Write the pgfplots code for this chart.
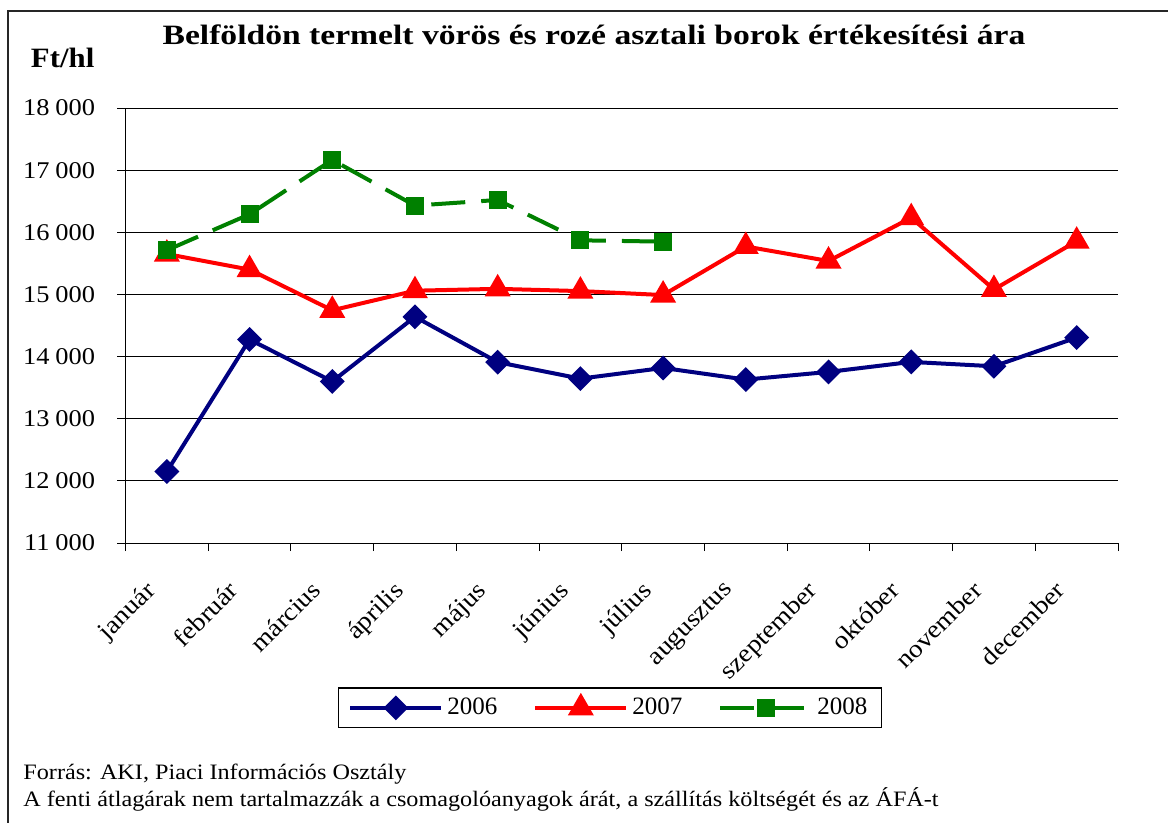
\documentclass[border=0pt]{standalone}
\usepackage{fontspec}
\setmainfont{Liberation Serif}[FakeStretch=1.1]
\newfontfamily\plainfont{Liberation Serif}
\newfontfamily\titlefont{Liberation Serif}[FakeStretch=1.2]
\usepackage{pgfplots}
\pgfplotsset{compat=1.18}

\definecolor{c2006}{RGB}{0,0,128}
\definecolor{c2007}{RGB}{255,0,0}
\definecolor{c2008}{RGB}{0,128,0}

\begin{document}
\begin{tikzpicture}
% 1 px of the reference = 0.5pt
\useasboundingbox (0,0) rectangle (584pt,-411.5pt);
\draw[black!85, line width=1pt] (3.9pt,-412pt) -- (3.9pt,-5.5pt) -- (585pt,-5.5pt);

\node[anchor=base, inner sep=0pt, font=\titlefont\fontsize{14}{16}\selectfont\bfseries]
  at (297pt,-22.5pt) {Belföldön termelt vörös és rozé asztali borok értékesítési ára};
\node[anchor=base west, inner sep=0pt, font=\fontsize{14}{16}\selectfont\bfseries]
  at (15.3pt,-34pt) {Ft/hl};

\begin{axis}[
    at={(62.75pt,-271.5pt)}, anchor=south west,
    scale only axis,
    width=496.25pt, height=217.5pt,
    xmin=0.5, xmax=12.5,
    ymin=11000, ymax=18000,
    ytick distance=1000,
    scaled y ticks=false,
    axis x line=bottom, axis y line=left,
    axis line style={-, black, line width=0.5pt},
    tick align=outside,
    major tick length=4pt,
    minor tick length=4pt,
    tick style={black, line width=0.5pt},
    major x tick style={draw=none},
    xtick={1,...,12},
    minor xtick={0.5,1.5,...,12.5},
    xticklabels={január, február, március, április, május, június, július,
                 augusztus, szeptember, október, november, december},
    xticklabel style={rotate=45, anchor=north east, inner sep=0pt,
                      xshift=-18pt, yshift=-2pt,
                      font=\fontsize{12.5}{14}\selectfont},
    yticklabel style={inner sep=0pt, xshift=-11pt,
                      font=\fontsize{12}{14}\selectfont},
    /pgf/number format/.cd, 1000 sep={\hspace{0.25em}}, assume math mode=true,
    /pgfplots/.cd,
    ymajorgrids,
    major grid style={black, line width=0.5pt},
    clip=false,
    legend columns=3,
    legend style={at={(axis description cs:0.488,-0.379)}, anchor=center,
                  draw=black, line width=0.6pt, inner xsep=5pt, inner ysep=3pt,
                  font=\plainfont\fontsize{12.5}{14}\selectfont,
                  /tikz/every even column/.append style={column sep=16pt}},
    legend image code/.code={
        \draw[mark repeat=2, mark phase=2, #1]
        plot coordinates {(0pt,0pt) (22.75pt,0pt) (45.5pt,0pt)};},
]
\addplot[c2006, line width=2pt, mark=square*, mark size=3.4pt,
         mark options={rotate=45, solid}]
  coordinates {(1,12150) (2,14275) (3,13600) (4,14640) (5,13910) (6,13645)
               (7,13817) (8,13630) (9,13753) (10,13914) (11,13844) (12,14306)};
\addlegendentry{2006}
\addplot[c2007, line width=2pt, mark=triangle*, mark size=5.5pt,
         mark options={solid}]
  coordinates {(1,15650) (2,15400) (3,14745) (4,15060) (5,15090) (6,15054)
               (7,14990) (8,15772) (9,15538) (10,16235) (11,15080) (12,15858)};
\addlegendentry{2007}
\addplot[c2008, line width=2pt, dash pattern=on 17pt off 8pt,
         mark=square*, mark size=3.5pt, mark options={solid}]
  coordinates {(1,15712) (2,16290) (3,17165) (4,16430) (5,16520) (6,15871)
               (7,15850)};
\addlegendentry{2008}
\end{axis}

\node[anchor=base west, inner sep=0pt, font=\fontsize{11}{13}\selectfont]
  at (11.5pt,-389.5pt) {Forrás: AKI, Piaci Információs Osztály};
\node[anchor=base west, inner sep=0pt, font=\fontsize{11}{13}\selectfont]
  at (11.5pt,-403.3pt) {A fenti átlagárak nem tartalmazzák a csomagolóanyagok árát, a szállítás költségét és az ÁFÁ-t};
\end{tikzpicture}
\end{document}
